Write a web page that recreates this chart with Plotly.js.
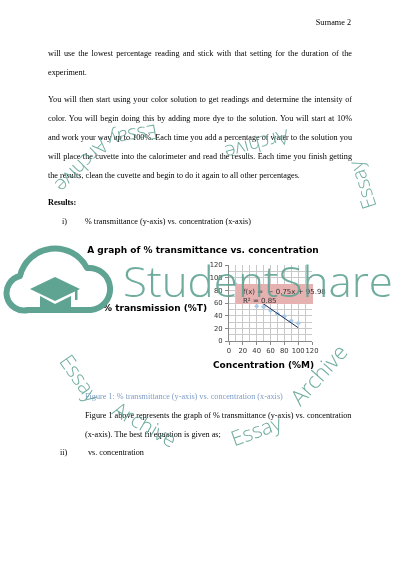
<!DOCTYPE html>
<html>
<head>
<meta charset="utf-8">
<script src="https://cdn.plot.ly/plotly-3.0.1.min.js"></script>
<style>
  html, body { margin: 0; padding: 0; background: #fff; }
  #page { position: relative; width: 400px; height: 566px; overflow: hidden; background: #fff; }
  #text { position: absolute; left: 0; top: 0; width: 400px; height: 566px; will-change: transform; }
  .ln { position: absolute; font-family: "Liberation Serif", "Times New Roman", serif; font-size: 8.2px;
        line-height: 10px; color: #000; white-space: nowrap; }
  .just { left: 48px; width: 304px; text-align: justify; text-align-last: justify; white-space: normal; }
  #graph { position: absolute; left: 0; top: 0; width: 400px; height: 566px; }
  #wm { position: absolute; left: 0; top: 0; pointer-events: none; }
</style>
</head>
<body>
<div id="page">
  <div id="text">
    <div class="ln" style="top:18px; right:49px;">Surname 2</div>
    <div class="ln just" style="top:49px;">will use the lowest percentage reading and stick with that setting for the duration of the</div>
    <div class="ln" style="top:68px; left:48px;">experiment.</div>
    <div class="ln just" style="top:95px;">You will then start using your color solution to get readings and determine the intensity of</div>
    <div class="ln just" style="top:114px;">color. You will begin doing this by adding more dye to the solution. You will start at 10%</div>
    <div class="ln just" style="top:133px;">and work your way up to 100%. Each time you add a percentage of water to the solution you</div>
    <div class="ln just" style="top:152px;">will place the cuvette into the calorimeter and read the results. Each time you finish getting</div>
    <div class="ln" style="top:171px; left:48px;">the results, clean the cuvette and begin to do it again to all other percentages.</div>
    <div class="ln" style="top:198px; left:48px; font-weight:bold;">Results:</div>
    <div class="ln" style="top:217px; left:62px;">i)</div>
    <div class="ln" style="top:217px; left:85px;">% transmittance (y-axis) vs. concentration (x-axis)</div>
    <div class="ln" style="top:392px; left:85px; color:#7d9cc6;">Figure 1: % transmittance (y-axis) vs. concentration (x-axis)</div>
    <div class="ln" style="top:411px; left:85px;">Figure 1 above represents the graph of % transmittance (y-axis) vs. concentration</div>
    <div class="ln" style="top:430px; left:85px;">(x-axis). The best fit equation is given as;</div>
    <div class="ln" style="top:448px; left:60px;">ii)</div>
    <div class="ln" style="top:448px; left:88px;">vs. concentration</div>
  </div>

  <div id="graph"></div>

  <svg id="wm" width="400" height="566">
    <g fill="none" stroke="#5fa393" stroke-width="6" stroke-linejoin="round">
      <path d="M 28 310 A 17 17 0 0 1 20 276 A 36 36 0 0 1 87 268 A 21 21 0 0 1 91 310 Z"/>
    </g>
    <g fill="#5fa393">
      <polygon points="55,277 80,289 55,301 30,289"/>
      <path d="M 40 296 L 55 304 L 71 296 L 71 312 L 40 312 Z"/>
      <rect x="75" y="289" width="2.5" height="11"/>
    </g>
    <g fill="#5fa393" fill-opacity="0.9" font-family="Open Sans, Lato, sans-serif" font-weight="300"
       text-anchor="middle" dominant-baseline="central">
      <text x="258" y="280" font-size="42" textLength="270" lengthAdjust="spacingAndGlyphs">StudentShare</text>
      <text x="133" y="136" font-size="20" transform="rotate(170 133 136)">Essay</text>
      <text x="82" y="166" font-size="20" transform="rotate(135 82 166)">Archive</text>
      <text x="257" y="145" font-size="20" transform="rotate(165 257 145)">Archive</text>
      <text x="362" y="185" font-size="20" transform="rotate(-108 362 185)">Essay</text>
      <text x="80" y="378" font-size="21" transform="rotate(55 80 378)">Essay</text>
      <text x="145" y="424" font-size="21" transform="rotate(30 145 424)">Archive</text>
      <text x="256" y="430" font-size="21" transform="rotate(-20 256 430)">Essay</text>
      <text x="318" y="374" font-size="22" transform="rotate(-48 318 374)">Archive</text>
    </g>
  </svg>
</div>

<script>
// concentration (%M) and % transmittance (%T) readings
var concX = [10, 20, 30, 40, 50, 60, 70, 80, 90, 100];
var transT = [89, 80, 84, 55, 54, 48, 43, 39, 32, 28];

// linear trendline ends as drawn on the chart
var trendX = [10, 100];
var trendY = [88.5, 21];

var fitLabel = 'f(x) =  − 0.75x + 95.98<br>R² = 0.85';
var tickVals = [0, 20, 40, 60, 80, 100, 120];

var points = {
    x: concX,
    y: transT,
    mode: 'markers',
    marker: { symbol: 'diamond', size: 4, color: '#a9cbea' },
    hoverinfo: 'none'
};

var trend = {
    x: trendX,
    y: trendY,
    mode: 'lines',
    line: { color: '#1f2f5a', width: 1 },
    hoverinfo: 'none'
};

var tickFont = { family: 'DejaVu Sans', size: 6.8, color: '#333' };

var axisBase = {
    range: [0, 120],
    autorange: false,
    tickvals: tickVals,
    tickangle: 0,
    ticks: 'outside',
    ticklen: 3,
    tickcolor: '#888',
    tickfont: tickFont,
    showline: true,
    linecolor: '#888',
    linewidth: 1,
    showgrid: true,
    gridcolor: '#c9c9c9',
    gridwidth: 1,
    zeroline: false,
    minor: { dtick: 10, showgrid: true, gridcolor: '#c9c9c9', gridwidth: 1 }
};

var layout = {
    width: 400,
    height: 566,
    showlegend: false,
    paper_bgcolor: 'rgba(0,0,0,0)',
    plot_bgcolor: 'rgba(0,0,0,0)',
    margin: { l: 229, r: 88, t: 265, b: 225 },
    title: {
        text: '<b>A graph of % transmittance vs. concentration</b>',
        font: { family: 'DejaVu Sans', size: 9, color: '#000' },
        xref: 'container', yref: 'container',
        x: 0.5075, xanchor: 'center',
        y: 1 - 250 / 566, yanchor: 'middle'
    },
    xaxis: Object.assign({}, axisBase),
    yaxis: Object.assign({}, axisBase, { ticklabelstandoff: 1 }),
    shapes: [{
        type: 'rect', xref: 'paper', yref: 'paper',
        x0: 0.084, x1: 1.012, y0: 0.487, y1: 0.75,
        fillcolor: '#e6b1b1', line: { width: 0 }, layer: 'above'
    }],
    annotations: [
        {
            text: fitLabel, xref: 'paper', yref: 'paper',
            x: 0.14, y: 0.72, xanchor: 'left', yanchor: 'top', align: 'left',
            showarrow: false, font: { family: 'DejaVu Sans', size: 7, color: '#333' }
        },
        {
            text: '<b>% transmission (%T)</b>', xref: 'paper', yref: 'paper',
            x: -0.89, y: 0.434, xanchor: 'center', yanchor: 'middle',
            showarrow: false, font: { family: 'DejaVu Sans', size: 9, color: '#000' }
        },
        {
            text: '<b>Concentration (%M)</b>', xref: 'paper', yref: 'paper',
            x: 0.42, y: -0.316, xanchor: 'center', yanchor: 'middle',
            showarrow: false, font: { family: 'DejaVu Sans', size: 9, color: '#000' }
        }
    ]
};

var graph = document.getElementById('graph');
Plotly.newPlot(graph, [points, trend], layout, { staticPlot: true });
</script>
</body>
</html>
